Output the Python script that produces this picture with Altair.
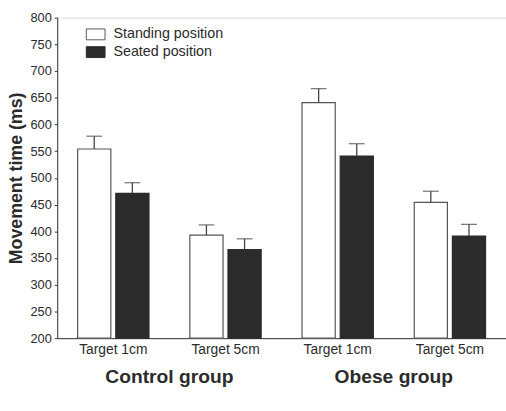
import altair as alt
import pandas as pd

groups = ["Control group", "Control group", "Obese group", "Obese group"]
targets = ["Target 1cm", "Target 5cm", "Target 1cm", "Target 5cm"]
standing_mean = [554, 393, 641, 454]
standing_err = [24, 19, 26, 21]
seated_mean = [471, 366, 541, 391]
seated_err = [20, 20, 23, 22]
positions = ["Standing position", "Seated position"]
y_ticks = list(range(200, 801, 50))

combo_order = [g + "|" + t for g, t in zip(groups, targets)]
rows = []
for i in range(4):
    rows.append(dict(combo=combo_order[i], position=positions[0],
                     mean=standing_mean[i], upper=standing_mean[i] + standing_err[i]))
    rows.append(dict(combo=combo_order[i], position=positions[1],
                     mean=seated_mean[i], upper=seated_mean[i] + seated_err[i]))
df = pd.DataFrame(rows)

gdf = pd.DataFrame({
    "combo": [combo_order[0], combo_order[2]],
    "label": [groups[0], groups[2]],
})

FONT = "Liberation Sans"
TXT = "#2b2b2b"

x_scale = alt.Scale(domain=combo_order, paddingInner=0, paddingOuter=0)
x_axis = alt.Axis(title=None, labelExpr="split(datum.label, '|')[1]", labelAngle=0,
                  ticks=False, labelFontSize=14, labelPadding=5, labelFont=FONT,
                  labelColor=TXT, domainColor="#333", domainWidth=1, grid=False)
xoff = alt.XOffset("position:N", sort=positions,
                   scale=alt.Scale(domain=positions, paddingInner=0.13, paddingOuter=0.536))
y_scale = alt.Scale(domain=[200, 800], nice=False, zero=False)
y_axis = alt.Axis(values=y_ticks, tickCount=13, labelOverlap=False, grid=False, tickSize=3,
                  tickColor="#333", domainColor="#333", labelFontSize=13, labelFont=FONT,
                  labelColor=TXT, labelPadding=3, titleFontSize=18, titleFont=FONT,
                  titleFontWeight="bold", titleColor=TXT, titlePadding=4)
YT = "Movement time (ms)"


def xe(**kw):
    return alt.X("combo:N", sort=combo_order, scale=x_scale, axis=x_axis, **kw)


def ye(field):
    return alt.Y(field, scale=y_scale, axis=y_axis, title=YT)


bars = alt.Chart(df).mark_bar(strokeWidth=1.2).encode(
    x=xe(),
    xOffset=xoff,
    y=ye("mean:Q"),
    y2=alt.datum(200),
    fill=alt.Fill("position:N", sort=positions,
                  scale=alt.Scale(domain=positions, range=["#ffffff", "#2b2b2b"]),
                  legend=alt.Legend(title=None, orient="none", legendX=29, legendY=7,
                                    symbolType="M -1 -0.58 L 1 -0.58 L 1 0.58 L -1 0.58 Z",
                                    symbolSize=361, symbolStrokeColor="#333",
                                    symbolStrokeWidth=1, symbolOpacity=1,
                                    labelFontSize=14.5, labelFont=FONT, labelColor=TXT,
                                    labelOffset=8, rowPadding=-2, padding=0)),
    stroke=alt.Stroke("position:N", sort=positions,
                      scale=alt.Scale(domain=positions, range=["#555555", "#2b2b2b"]),
                      legend=None),
)

rules = alt.Chart(df).mark_rule(color="#444", strokeWidth=1.3).encode(
    x=xe(), xOffset=xoff,
    y=ye("mean:Q"),
    y2="upper:Q",
)

caps = alt.Chart(df).mark_tick(color="#444", thickness=1.3, size=16).encode(
    x=xe(), xOffset=xoff,
    y=ye("upper:Q"),
)

glabels = alt.Chart(gdf).mark_text(fontSize=19.5, fontWeight="bold", font=FONT, color=TXT,
                                    baseline="alphabetic", dy=45).encode(
    x=xe(bandPosition=1),
    y=alt.datum(200, scale=y_scale, axis=y_axis, title=YT),
    text="label:N",
)

chart = alt.layer(bars, rules, caps, glabels).properties(
    width=455, height=325,
    autosize=alt.AutoSizeParams(type="none"),
    padding={"left": 58, "top": 15, "right": 0, "bottom": 71},
).configure_view(stroke=None).configure(background="white")

chart.save("out.html", embed_options={"renderer": "svg", "actions": False})
